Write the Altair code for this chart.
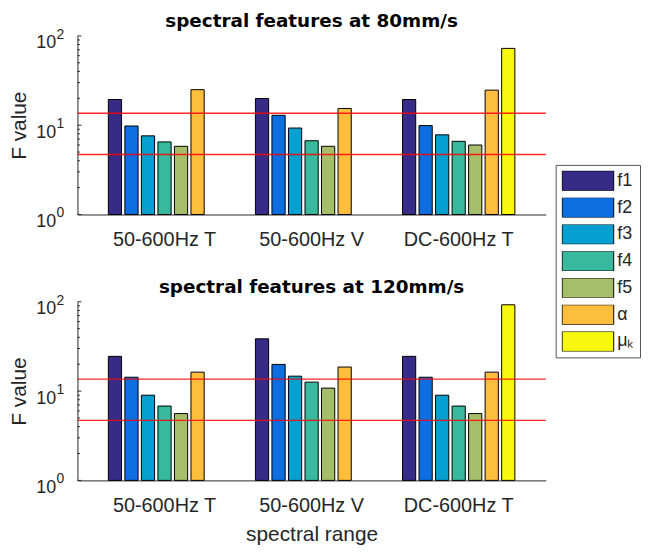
import altair as alt
import pandas as pd

categories = ["50-600Hz T", "50-600Hz V", "DC-600Hz T"]
series = ["f1", "f2", "f3", "f4", "f5", "α", "μₖ"]
colors = ["#362b87", "#0c6ee0", "#05a0d0", "#38b89c", "#a6be6a", "#fdbd3d", "#f8f80f"]

# F values per series, for each spectral range (None = not present)
v80 = {
    "f1": [19.4, 19.9, 19.4],
    "f2": [9.8, 12.9, 9.9],
    "f3": [7.6, 9.3, 7.8],
    "f4": [6.5, 6.7, 6.6],
    "f5": [5.8, 5.8, 6.0],
    "α": [25.0, 15.4, 24.7],
    "μₖ": [None, None, 72.5],
}
v120 = {
    "f1": [24.5, 38.5, 24.5],
    "f2": [14.3, 19.9, 14.3],
    "f3": [9.0, 14.7, 9.0],
    "f4": [6.8, 12.6, 6.8],
    "f5": [5.6, 10.8, 5.6],
    "α": [16.3, 18.6, 16.3],
    "μₖ": [None, None, 92.6],
}
thresholds = [13.6, 4.7]
major_ticks = [1, 10, 100]
exponents = ["0", "1", "2"]
minor_ticks = [2, 3, 4, 5, 6, 7, 8, 9, 20, 30, 40, 50, 60, 70, 80, 90]

FONT = "Liberation Sans"
TITLE_FONT = "DejaVu Sans"
TXT = "#262626"


def to_long(vals):
    rows = []
    for s in series:
        for c, v in zip(categories, vals[s]):
            if v is not None:
                rows.append({"range": c, "feature": s, "F": v, "base": 1})
    return pd.DataFrame(rows)


def panel(vals, title, show_xtitle):
    df = to_long(vals)
    yscale = alt.Scale(type="log", domain=[1, 100])
    bars = alt.Chart(df).mark_bar(stroke="black", strokeWidth=1).encode(
        x=alt.X(
            "range:N",
            sort=categories,
            scale=alt.Scale(domain=categories, paddingInner=0.236, paddingOuter=0.21),
            axis=alt.Axis(
                title="spectral range" if show_xtitle else None,
                labelAngle=0,
                ticks=False,
                labelFontSize=20,
                labelPadding=15,
                titleFontSize=21,
                titleFontWeight="normal",
                titlePadding=9,
                labelColor=TXT,
                titleColor=TXT,
                domainColor=TXT,
                labelFont=FONT,
                titleFont=FONT,
            ),
        ),
        xOffset=alt.XOffset("feature:N", sort=series, scale=alt.Scale(domain=series, paddingInner=0.2)),
        y=alt.Y(
            "F:Q",
            scale=yscale,
            stack=None,
            axis=alt.Axis(
                title="F value",
                values=major_ticks,
                ticks=False,
                grid=False,
                labelExpr="'10'",
                labelFontSize=18,
                labelPadding=22,
                labelBaseline="middle",
                labelOffset=7,
                titleFontSize=21,
                titleFontWeight="normal",
                titlePadding=6,
                labelColor=TXT,
                titleColor=TXT,
                domainColor=TXT,
                labelFont=FONT,
                titleFont=FONT,
            ),
        ),
        y2=alt.Y2("base:Q"),
        color=alt.Color(
            "feature:N",
            sort=series,
            scale=alt.Scale(domain=series, range=colors),
            legend=alt.Legend(
                title=None,
                orient="none",
                legendX=482,
                legendY=130,
                symbolType="M-1,-0.385L1,-0.385L1,0.385L-1,0.385Z",
                symbolSize=2704,
                symbolStrokeColor="black",
                symbolStrokeWidth=1,
                symbolOpacity=1,
                clipHeight=20,
                rowPadding=7,
                labelOffset=3,
                labelFontSize=18,
                labelFont=FONT,
                labelColor=TXT,
                strokeColor="#555555",
                fillColor="white",
                padding=6,
            ),
        ),
    )
    rules = alt.Chart(pd.DataFrame({"t": thresholds})).mark_rule(
        color="#ff0000", strokeWidth=1.4, opacity=0.85
    ).encode(y=alt.Y("t:Q", scale=yscale))
    maj = alt.Chart(pd.DataFrame({"v": major_ticks})).mark_rule(color=TXT).encode(
        y=alt.Y("v:Q", scale=yscale), x=alt.value(0), x2=alt.value(4)
    )
    mnr = alt.Chart(pd.DataFrame({"v": minor_ticks})).mark_rule(color=TXT).encode(
        y=alt.Y("v:Q", scale=yscale), x=alt.value(0), x2=alt.value(2.5)
    )
    exps = alt.Chart(pd.DataFrame({"v": major_ticks, "e": exponents})).mark_text(
        align="left", baseline="middle", fontSize=14, font=FONT, color=TXT, dy=-1
    ).encode(y=alt.Y("v:Q", scale=yscale), x=alt.value(-21), text="e:N")
    return alt.layer(bars, rules, maj, mnr, exps).properties(
        width=472,
        height=180,
        title=alt.TitleParams(
            title, fontSize=18.5, fontWeight="bold", font=TITLE_FONT, color="black",
            offset=-3, frame="group"
        ),
    )


chart = alt.vconcat(
    panel(v80, "spectral features at 80mm/s", False),
    panel(v120, "spectral features at 120mm/s", True),
    spacing=29,
).properties(
    padding={"left": 0, "top": 2, "right": 0, "bottom": 0}
).configure_view(stroke=None).configure_axis(domainWidth=1)

chart.save("out.html", embed_options={"renderer": "svg", "actions": False})
